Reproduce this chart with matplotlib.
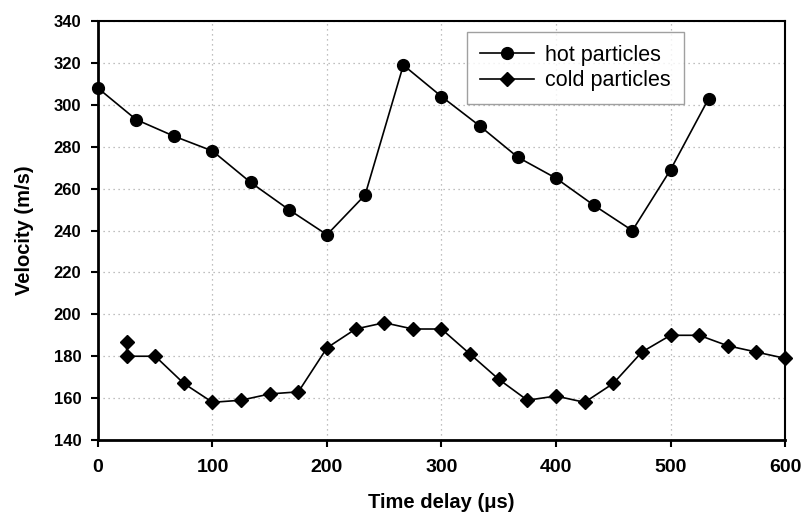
import matplotlib
matplotlib.use("Agg")
import matplotlib.pyplot as plt

hot_x = [0, 33.3, 66.7, 100, 133.3, 166.7, 200, 233.3, 266.7, 300, 333.3, 366.7, 400, 433.3, 466.7, 500, 533.3]
hot_v = [308, 293, 285, 278, 263, 250, 238, 257, 319, 304, 290, 275, 265, 252, 240, 269, 303]

cold_x = [25, 25, 50, 75, 100, 125, 150, 175, 200, 225, 250, 275, 300, 325, 350, 375, 400, 425, 450, 475, 500, 525, 550, 575, 600]
cold_v = [187, 180, 180, 167, 158, 159, 162, 163, 184, 193, 196, 193, 193, 181, 169, 159, 161, 158, 167, 182, 190, 190, 185, 182, 179]

x_ticks = [0, 100, 200, 300, 400, 500, 600]
y_ticks = [140, 160, 180, 200, 220, 240, 260, 280, 300, 320, 340]

plt.rcParams['font.family'] = ['Liberation Sans', 'DejaVu Sans']

fig = plt.figure(figsize=(8.03, 5.15), dpi=100)
ax = fig.add_axes([0.122, 0.1456, 0.8556, 0.8134])

ax.plot(hot_x, hot_v, color='black', lw=1.2, marker='o', markersize=8.5, label='hot particles', zorder=3, clip_on=False)
ax.plot(cold_x, cold_v, color='black', lw=1.2, marker='D', markersize=7, label='cold particles', zorder=3, clip_on=False)

ax.set_xlim(0, 600)
ax.set_ylim(140, 340)
ax.set_xticks(x_ticks)
ax.set_yticks(y_ticks)
ax.grid(True, color='#aaaaaa', linestyle=(0, (1, 3)), linewidth=0.9)
ax.set_axisbelow(True)

for s in ['left', 'bottom']:
    ax.spines[s].set_linewidth(2.0)
for s in ['top', 'right']:
    ax.spines[s].set_linewidth(1.5)

ax.tick_params(axis='both', direction='out', length=5, width=1.5)
ax.tick_params(axis='x', pad=9, labelsize=14)
ax.tick_params(axis='y', pad=7, labelsize=12)
for lbl in ax.get_xticklabels() + ax.get_yticklabels():
    lbl.set_fontweight('bold')

ax.set_xlabel('Time delay (μs)', fontsize=14.5, fontweight='bold', labelpad=12)
ax.set_ylabel('Velocity (m/s)', fontsize=14.5, fontweight='bold', labelpad=14)

leg = ax.legend(loc='upper left', bbox_to_anchor=(0.537, 0.974), fontsize=15.5, frameon=True,
                fancybox=False, edgecolor='#888888', handlelength=2.5, borderpad=0.6,
                labelspacing=0.2, handletextpad=0.55, borderaxespad=0)
leg.get_frame().set_linewidth(1.0)

fig.savefig('out.png', dpi=100)
